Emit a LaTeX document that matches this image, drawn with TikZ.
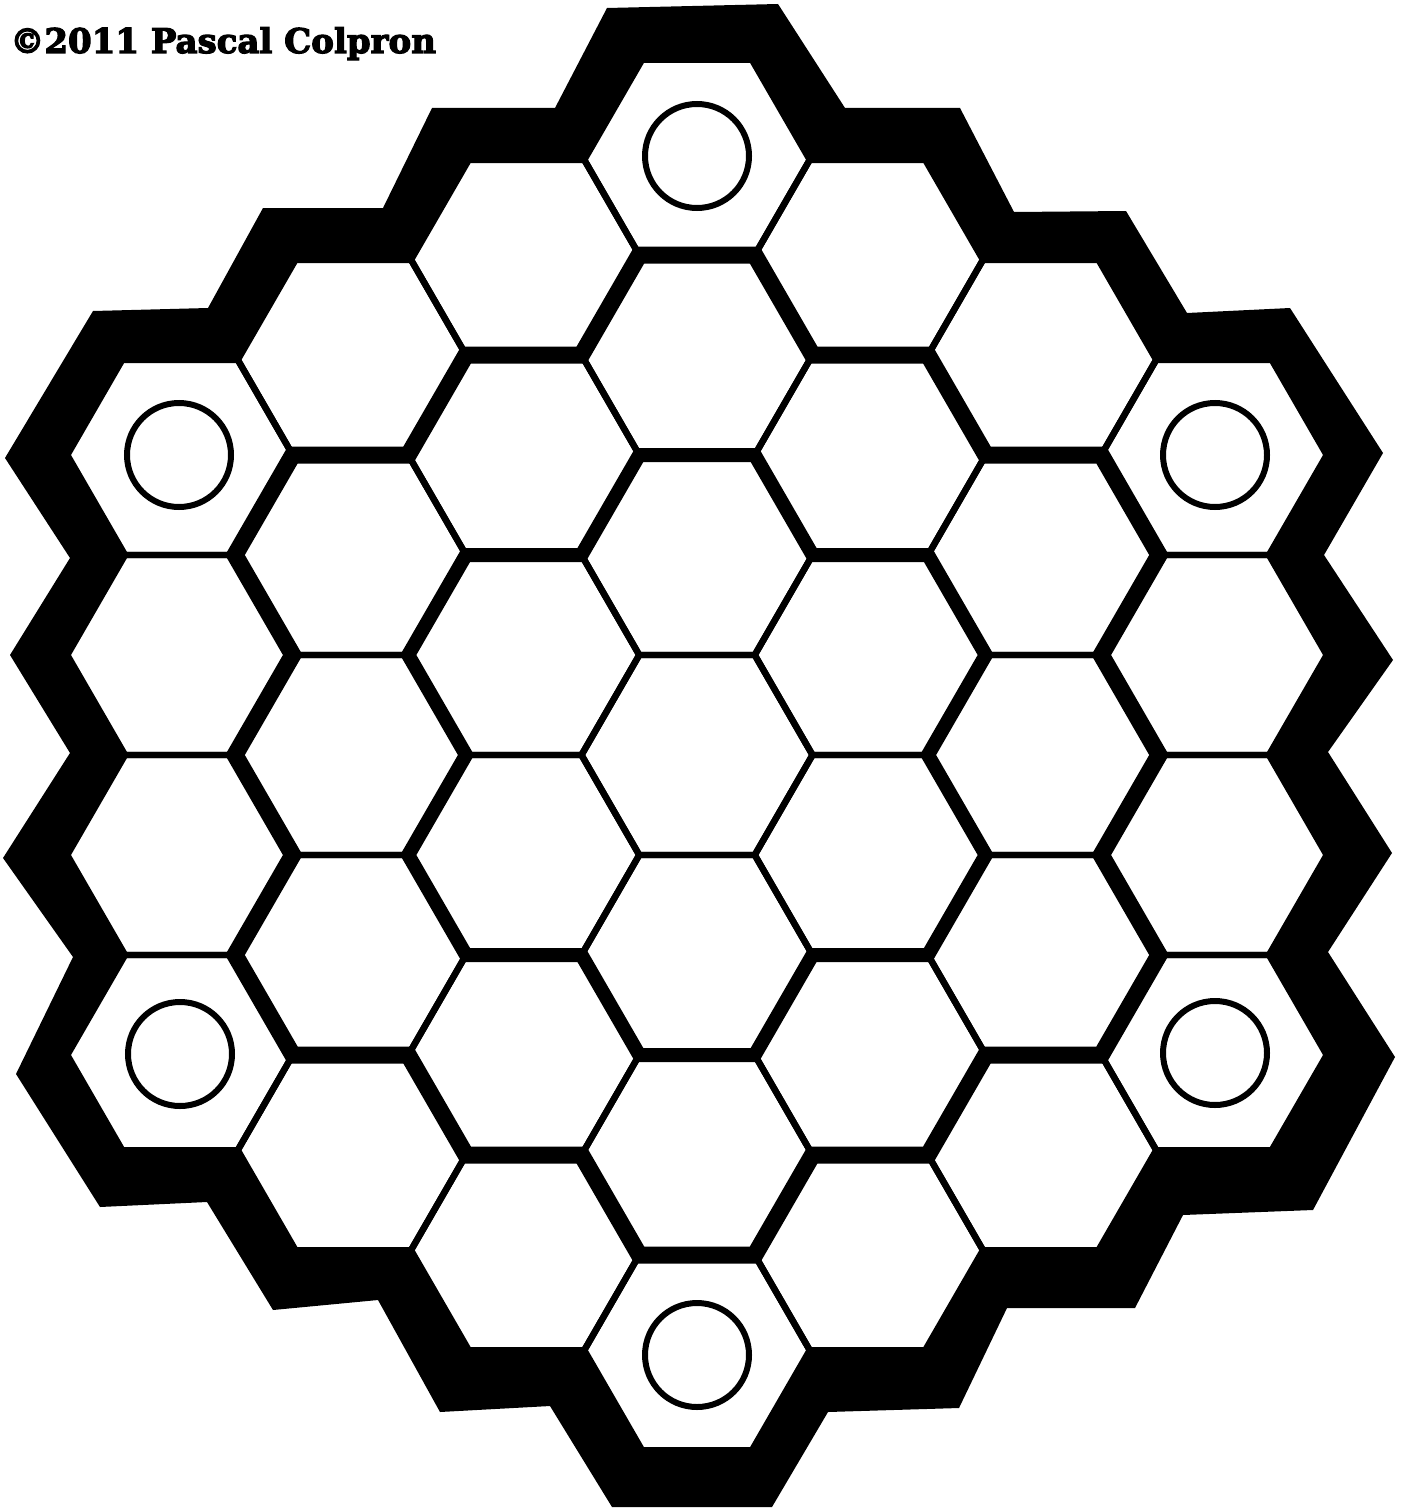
\documentclass[tikz,border=0pt]{standalone}
\usepackage{fontspec}
\newfontfamily\credfont[BoldFeatures={FakeBold=3.5}]{DejaVu Serif}
\begin{document}
\begin{tikzpicture}[x=0.5pt,y=-0.5pt,
  hexline/.style={line width=3.2pt, line join=miter},
  ringtwo/.style={line width=8.5pt, line join=miter},
  ringone/.style={line width=7pt, line join=miter},
  rim/.style={line width=8pt, line join=miter},
  goal/.style={line width=3pt}]
\fill[white] (0,0) rectangle (1411,1509);
\useasboundingbox (0,0) rectangle (1411,1509);
% outer black band
\fill[black] (607,8) -- (778,4) -- (845,108) -- (960,108) -- (1014,212) -- (1126,211) -- (1187,313) -- (1290,308) -- (1383,453) -- (1324,555) -- (1393,660) -- (1328,752) -- (1392,853) -- (1328,952) -- (1395,1057) -- (1313,1210) -- (1183,1215) -- (1135,1308) -- (1007,1308) -- (959,1408) -- (828,1412) -- (772,1507) -- (612,1507) -- (550,1406) -- (440,1412) -- (378,1300) -- (273,1310) -- (207,1202) -- (100,1207) -- (16,1074) -- (73,957) -- (3,858) -- (70,753) -- (10,655) -- (70,558) -- (5,458) -- (93,311) -- (208,308) -- (263,208) -- (383,208) -- (432,108) -- (555,108) -- cycle;
\begin{scope}[shift={(348.5pt,-377.5pt)}, x=28.875pt, y=-50pt]
  % board interior
  \fill[white] (-1,-7) -- (1,-7) -- (2,-6) -- (4,-6) -- (5,-5) -- (7,-5) -- (8,-4) -- (10,-4) -- (11,-3) -- (10,-2) -- (11,-1) -- (10,0) -- (11,1) -- (10,2) -- (11,3) -- (10,4) -- (8,4) -- (7,5) -- (5,5) -- (4,6) -- (2,6) -- (1,7) -- (-1,7) -- (-2,6) -- (-4,6) -- (-5,5) -- (-7,5) -- (-8,4) -- (-10,4) -- (-11,3) -- (-10,2) -- (-11,1) -- (-10,0) -- (-11,-1) -- (-10,-2) -- (-11,-3) -- (-10,-4) -- (-8,-4) -- (-7,-5) -- (-5,-5) -- (-4,-6) -- (-2,-6) -- cycle;
  % all cells
  \foreach \q in {-3,...,3}{
    \foreach \r in {-3,...,3}{
      \pgfmathtruncatemacro\hd{max(abs(\q),abs(\r),abs(\q+\r))}
      \ifnum\hd<4
        \draw[hexline] ({3*\q+2},{2*\r+\q}) -- ++(-1,-1) -- ++(-2,0) -- ++(-1,1) -- ++(1,1) -- ++(2,0) -- cycle;
      \fi
    }
  }
  % boundary between ring 1 and ring 2
  \draw[ringone] (-1,-3) -- (1,-3) -- (2,-2) -- (4,-2) -- (5,-1) -- (4,0) -- (5,1) -- (4,2) -- (2,2) -- (1,3) -- (-1,3) -- (-2,2) -- (-4,2) -- (-5,1) -- (-4,0) -- (-5,-1) -- (-4,-2) -- (-2,-2) -- cycle;
  % boundary between ring 2 and ring 3
  \draw[ringtwo] (-1,-5) -- (1,-5) -- (2,-4) -- (4,-4) -- (5,-3) -- (7,-3) -- (8,-2) -- (7,-1) -- (8,0) -- (7,1) -- (8,2) -- (7,3) -- (5,3) -- (4,4) -- (2,4) -- (1,5) -- (-1,5) -- (-2,4) -- (-4,4) -- (-5,3) -- (-7,3) -- (-8,2) -- (-7,1) -- (-8,0) -- (-7,-1) -- (-8,-2) -- (-7,-3) -- (-5,-3) -- (-4,-4) -- (-2,-4) -- cycle;
  % rim
  \draw[rim] (-1,-7) -- (1,-7) -- (2,-6) -- (4,-6) -- (5,-5) -- (7,-5) -- (8,-4) -- (10,-4) -- (11,-3) -- (10,-2) -- (11,-1) -- (10,0) -- (11,1) -- (10,2) -- (11,3) -- (10,4) -- (8,4) -- (7,5) -- (5,5) -- (4,6) -- (2,6) -- (1,7) -- (-1,7) -- (-2,6) -- (-4,6) -- (-5,5) -- (-7,5) -- (-8,4) -- (-10,4) -- (-11,3) -- (-10,2) -- (-11,1) -- (-10,0) -- (-11,-1) -- (-10,-2) -- (-11,-3) -- (-10,-4) -- (-8,-4) -- (-7,-5) -- (-5,-5) -- (-4,-6) -- (-2,-6) -- cycle;
\end{scope}
% corner circles
\draw[goal] (697,156) circle[radius=26pt];
\draw[goal] (697,1355) circle[radius=26pt];
\draw[goal] (179,455) circle[radius=26pt];
\draw[goal] (1215,455) circle[radius=26pt];
\draw[goal] (180,1054) circle[radius=26pt];
\draw[goal] (1215,1053) circle[radius=26pt];
% credit
\node[anchor=base west, inner sep=0pt, font=\credfont\bfseries\fontsize{17pt}{17pt}\selectfont] (credit) at (10,53) {©2011 Pascal Colpron};
\end{tikzpicture}
\end{document}
